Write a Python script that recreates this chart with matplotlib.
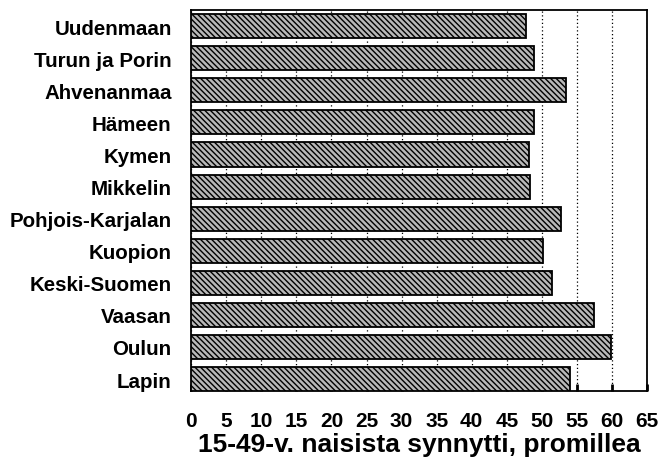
"""Synnyttäneet 15-49-v. naisista lääneittäin, promillea (vaakapalkit)."""

import matplotlib.pyplot as plt
import matplotlib as mpl

LAANIT = [
    "Uudenmaan", "Turun ja Porin", "Ahvenanmaa", "Hämeen", "Kymen",
    "Mikkelin", "Pohjois-Karjalan", "Kuopion", "Keski-Suomen", "Vaasan",
    "Oulun", "Lapin",
]
PROMILLEA = [47.7, 48.9, 53.4, 48.9, 48.1, 48.3, 52.7, 50.1, 51.4, 57.4, 59.8, 54.0]
XTICKS = list(range(0, 70, 5))

mpl.rcParams["font.family"] = ["Liberation Sans", "DejaVu Sans"]
mpl.rcParams["font.weight"] = "bold"
mpl.rcParams["hatch.linewidth"] = 1.0

fig = plt.figure(figsize=(6.59, 4.64), dpi=100)
ax = fig.add_axes([0.290, 0.155, 0.692, 0.821])

y = range(len(LAANIT))
ax.barh(y, PROMILLEA, height=0.75, color="#b8b8b8", edgecolor="black",
        linewidth=1.3, hatch="\\\\\\\\\\\\", zorder=3)

ax.set_xlim(0, 65)
ax.set_ylim(len(LAANIT) - 1 + 0.375, -0.5)
ax.set_xticks(XTICKS)
ax.set_xticklabels([str(t) for t in XTICKS], fontsize=15, fontweight="bold")
ax.set_yticks(list(y))
ax.set_yticklabels(LAANIT, fontsize=14.8, fontweight="bold")
ax.tick_params(axis="y", length=0, pad=14)
ax.tick_params(axis="x", direction="in", length=5, width=2, pad=14)
ax.xaxis.grid(True, linestyle=(0, (1, 2)), color="black", linewidth=0.9, zorder=0)
ax.set_axisbelow(True)
for s in ax.spines.values():
    s.set_linewidth(1.3)

ax.set_xlabel("15-49-v. naisista synnytti, promillea", fontsize=19,
              fontweight="bold", labelpad=2)

fig.savefig("out.png", dpi=100)
